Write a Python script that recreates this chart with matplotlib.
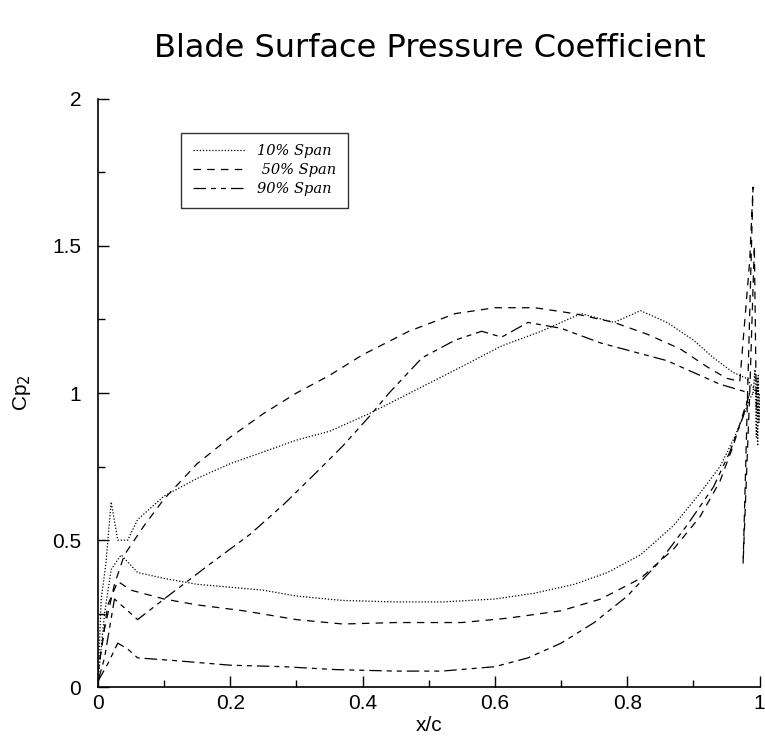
import matplotlib
matplotlib.use("Agg")
import matplotlib.pyplot as plt
import numpy as np

plt.rcParams["font.family"] = ["Liberation Sans", "DejaVu Sans"]

# 10% span (dotted)
x10_up = [0.0, 0.005, 0.012, 0.02, 0.03, 0.045, 0.06, 0.1, 0.15, 0.2, 0.25, 0.3, 0.35, 0.41, 0.48, 0.55, 0.61, 0.67, 0.73, 0.78, 0.82, 0.86, 0.9, 0.93, 0.96, 0.98, 0.99, 0.995]
y10_up = [0.02, 0.3, 0.42, 0.63, 0.5, 0.5, 0.57, 0.65, 0.71, 0.76, 0.8, 0.84, 0.87, 0.93, 1.01, 1.09, 1.16, 1.21, 1.27, 1.24, 1.28, 1.24, 1.18, 1.12, 1.07, 1.05, 1.02, 1.0]
x10_lo = [0.0, 0.01, 0.02, 0.035, 0.06, 0.1, 0.15, 0.2, 0.25, 0.3, 0.37, 0.45, 0.52, 0.6, 0.66, 0.72, 0.77, 0.82, 0.87, 0.91, 0.94, 0.96, 0.975, 0.985, 0.99]
y10_lo = [0.02, 0.25, 0.4, 0.45, 0.39, 0.37, 0.35, 0.34, 0.33, 0.31, 0.295, 0.29, 0.29, 0.3, 0.32, 0.35, 0.39, 0.45, 0.55, 0.66, 0.75, 0.84, 0.92, 0.98, 1.0]
x10_te = [0.99, 0.993, 0.995, 0.996, 0.997, 0.998, 0.999, 1.0]
y10_te = [1.0, 1.08, 0.85, 1.05, 0.82, 1.06, 0.9, 1.0]

# 50% span (dashed)
x50_up = [0.0, 0.01, 0.025, 0.04, 0.07, 0.1, 0.15, 0.2, 0.25, 0.3, 0.35, 0.4, 0.47, 0.54, 0.6, 0.66, 0.72, 0.78, 0.83, 0.88, 0.92, 0.95, 0.97]
y50_up = [0.05, 0.2, 0.35, 0.45, 0.55, 0.64, 0.76, 0.85, 0.93, 1.0, 1.06, 1.13, 1.21, 1.27, 1.29, 1.29, 1.27, 1.24, 1.2, 1.15, 1.09, 1.05, 1.04]
x50_lo = [0.0, 0.015, 0.03, 0.05, 0.1, 0.15, 0.22, 0.3, 0.37, 0.45, 0.55, 0.62, 0.7, 0.76, 0.82, 0.87, 0.91, 0.94, 0.96, 0.975, 0.985]
y50_lo = [0.05, 0.28, 0.36, 0.33, 0.3, 0.28, 0.26, 0.23, 0.215, 0.22, 0.22, 0.235, 0.26, 0.3, 0.37, 0.47, 0.58, 0.7, 0.82, 0.93, 1.0]
x50_te = [0.97, 0.985, 0.99, 0.975, 0.985, 0.992, 0.995]
y50_te = [1.04, 1.45, 1.7, 0.42, 1.0, 1.5, 0.95]

# 90% span (dash-dot)
x90_up = [0.0, 0.01, 0.025, 0.04, 0.06, 0.1, 0.17, 0.23, 0.28, 0.33, 0.37, 0.41, 0.44, 0.49, 0.54, 0.58, 0.61, 0.65, 0.7, 0.76, 0.81, 0.86, 0.9, 0.94, 0.97, 0.985]
y90_up = [0.02, 0.1, 0.3, 0.27, 0.23, 0.3, 0.42, 0.52, 0.62, 0.73, 0.82, 0.92, 1.0, 1.12, 1.18, 1.21, 1.19, 1.24, 1.22, 1.17, 1.14, 1.11, 1.07, 1.03, 1.01, 1.0]
x90_lo = [0.0, 0.015, 0.03, 0.045, 0.06, 0.12, 0.2, 0.28, 0.36, 0.45, 0.52, 0.6, 0.65, 0.7, 0.75, 0.8, 0.85, 0.89, 0.93, 0.955, 0.975, 0.985]
y90_lo = [0.02, 0.08, 0.15, 0.13, 0.1, 0.09, 0.075, 0.07, 0.06, 0.055, 0.055, 0.07, 0.1, 0.15, 0.22, 0.31, 0.43, 0.55, 0.68, 0.8, 0.92, 1.0]

spans = ["10% Span", " 50% Span", "90% Span"]
ls10 = (0, (1, 1.5))
ls50 = (0, (6, 5))
ls90 = (0, (10, 4, 4, 4, 4, 4))

fig = plt.figure(figsize=(7.65, 7.43), dpi=100)
ax = fig.add_axes([0.128, 0.075, 0.865, 0.792])

kw = dict(color="black", lw=0.9)
ax.plot(x10_up, y10_up, ls=ls10, label=spans[0], **kw)
ax.plot(x10_lo, y10_lo, ls=ls10, **kw)
ax.plot(x10_te, y10_te, ls=ls10, **kw)
ax.plot(x50_up, y50_up, ls=ls50, label=spans[1], **kw)
ax.plot(x50_lo, y50_lo, ls=ls50, **kw)
ax.plot(x50_te, y50_te, ls=ls50, **kw)
ax.plot(x90_up, y90_up, ls=ls90, label=spans[2], **kw)
ax.plot(x90_lo, y90_lo, ls=ls90, **kw)

ax.set_xlim(0, 1)
ax.set_ylim(0, 2)
ax.spines["top"].set_visible(False)
ax.spines["right"].set_visible(False)
ax.spines["left"].set_linewidth(1.2)
ax.spines["bottom"].set_linewidth(1.2)
ax.set_xticks(np.arange(0, 1.01, 0.2))
ax.set_xticklabels(["0", "0.2", "0.4", "0.6", "0.8", "1"])
ax.set_xticks(np.arange(0.1, 1.0, 0.2), minor=True)
ax.set_yticks([0, 0.5, 1, 1.5, 2])
ax.set_yticklabels(["0", "0.5", "1", "1.5", "2"])
ax.set_yticks([0.25, 0.75, 1.25, 1.75], minor=True)
ax.tick_params(axis="both", which="major", direction="in", length=8, width=1, labelsize=15)
ax.tick_params(axis="x", which="major", pad=5)
ax.tick_params(axis="y", which="major", pad=12)
ax.tick_params(axis="both", which="minor", direction="in", length=5, width=1)

ax.set_xlabel("x/c", fontsize=15, labelpad=2)
ax.set_ylabel("Cp$_2$", fontsize=15, labelpad=14)
fig.suptitle("Blade Surface Pressure Coefficient", fontsize=23, family="DejaVu Sans",
             x=0.562, y=0.935, va="center")

leg = ax.legend(loc="upper left", bbox_to_anchor=(0.115, 0.955), frameon=True, fancybox=False,
                edgecolor="black", prop={"style": "italic", "size": 10.5, "family": "DejaVu Serif"},
                handlelength=3.6, borderpad=0.8, labelspacing=0.35, handletextpad=0.8)
leg.get_frame().set_linewidth(1.0)

fig.savefig("out.png", dpi=100)
